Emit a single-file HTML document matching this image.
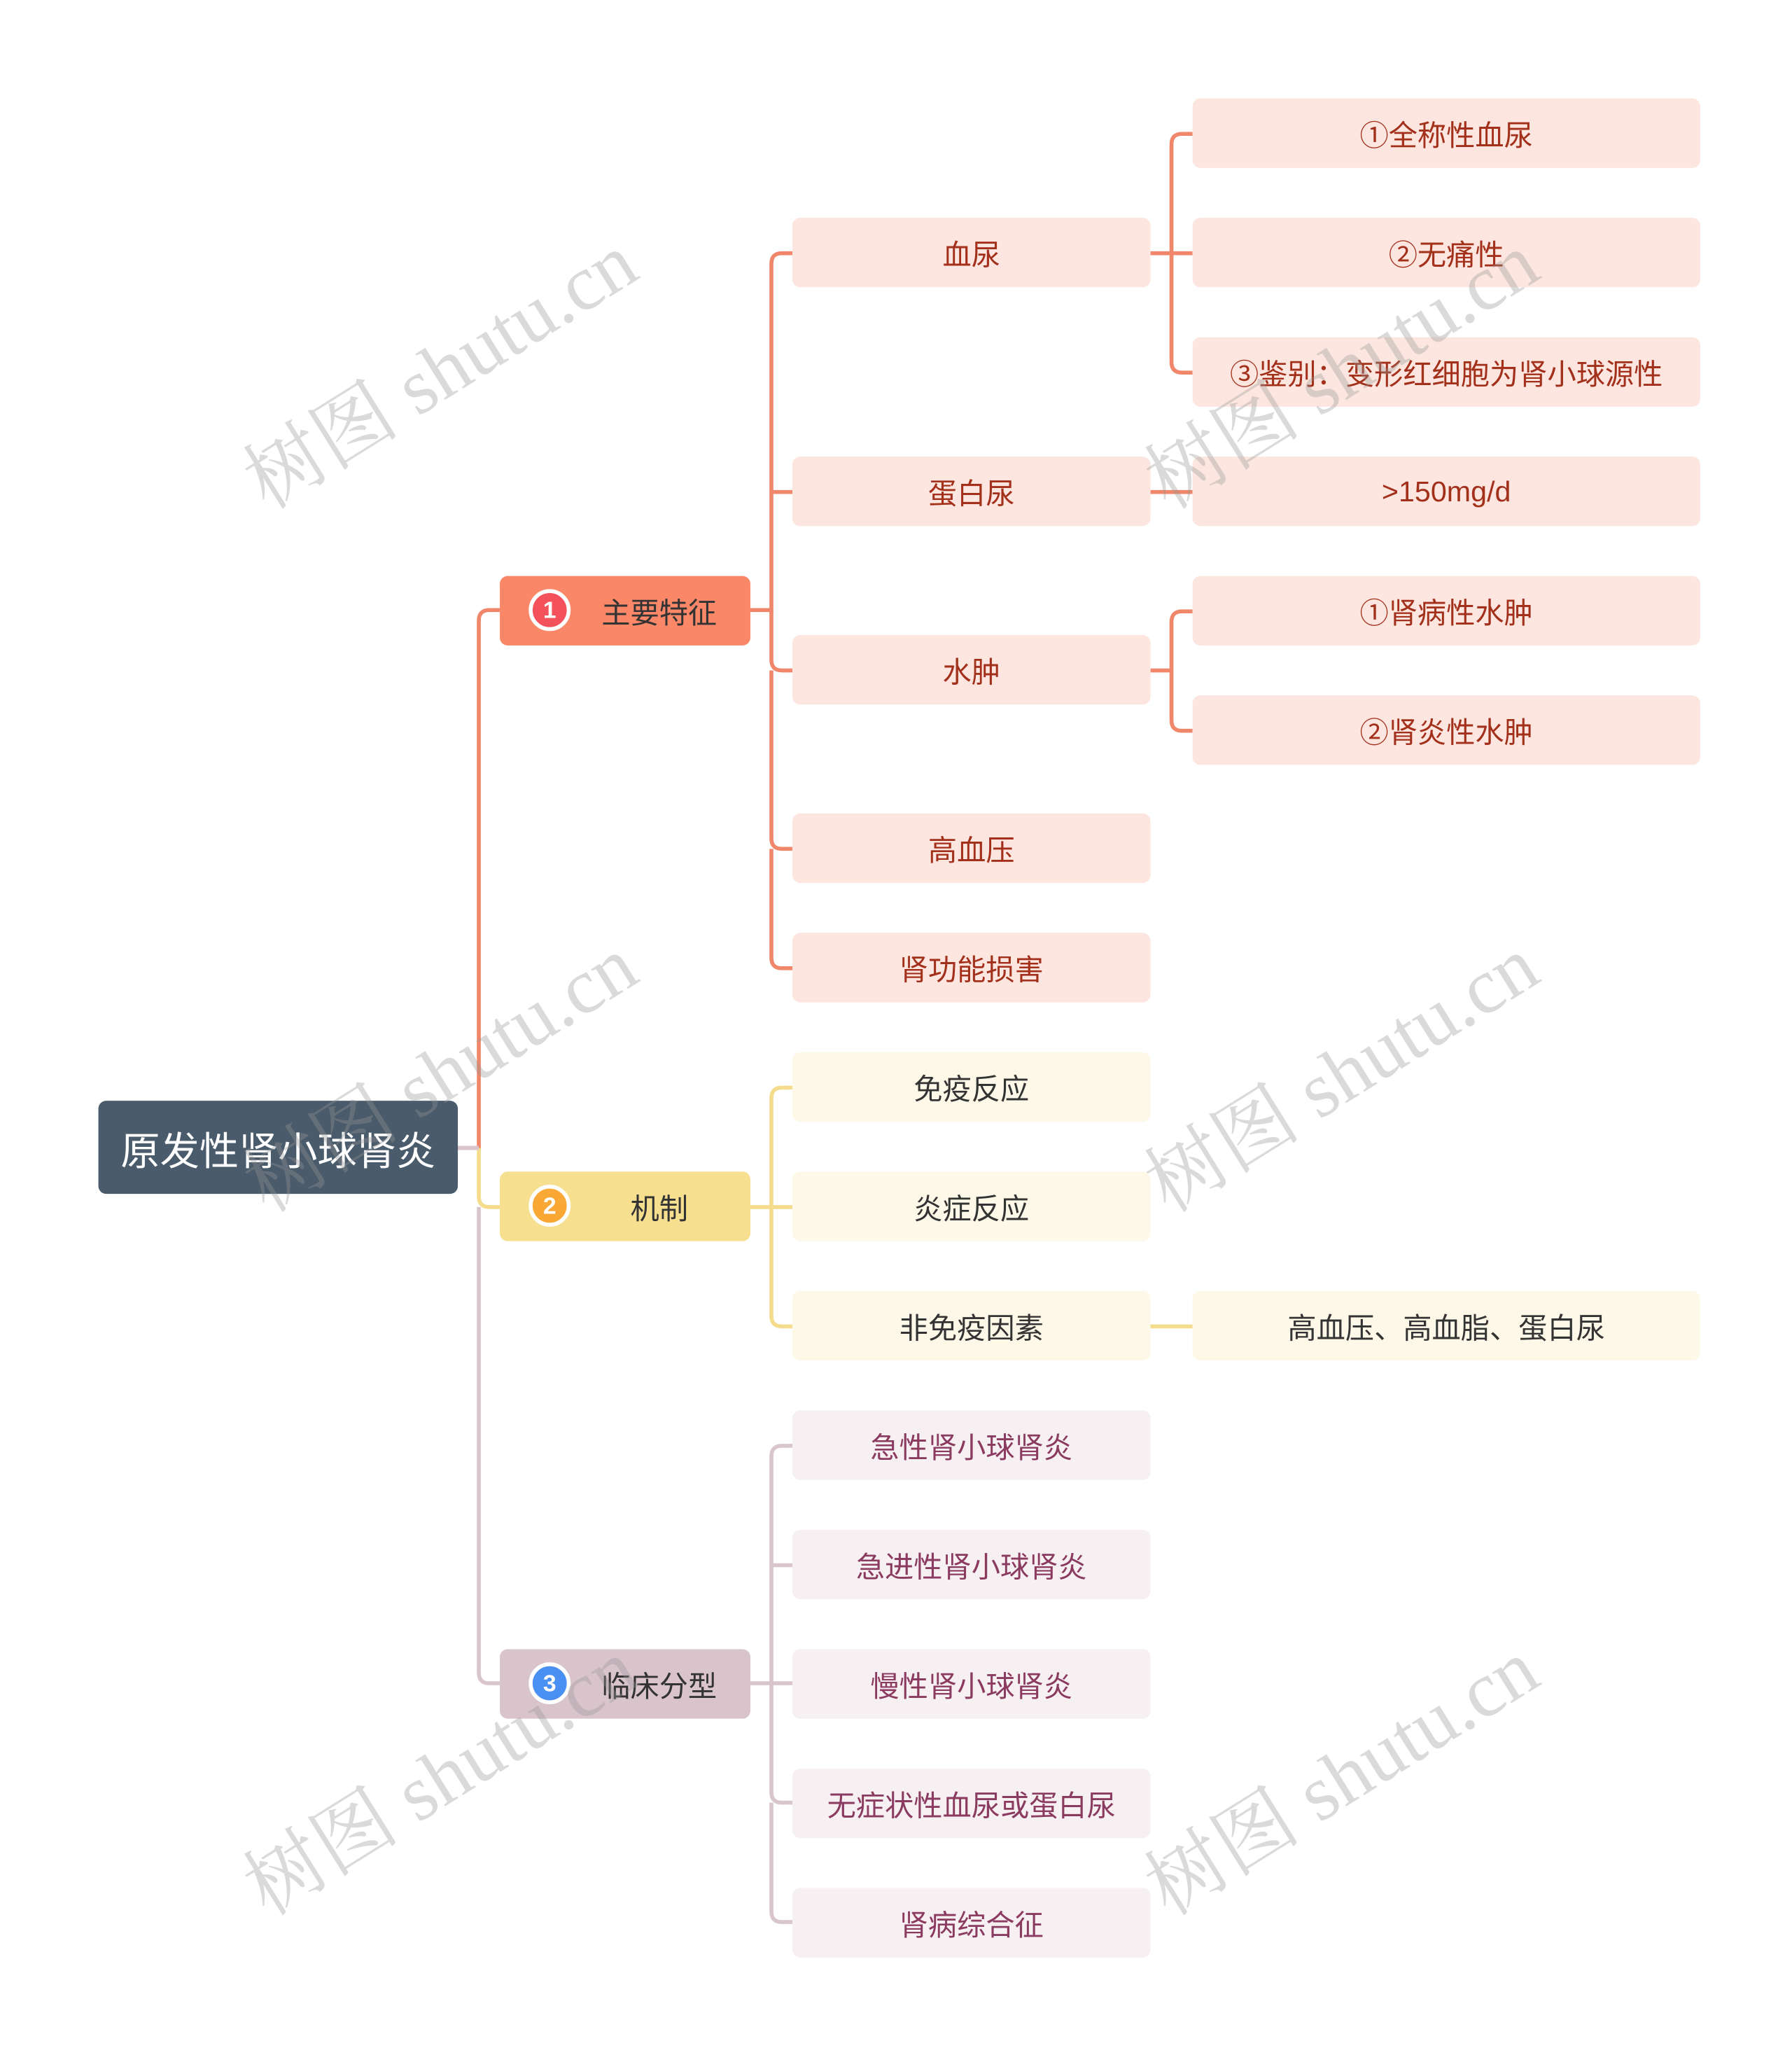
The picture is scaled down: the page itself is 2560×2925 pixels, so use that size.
<!DOCTYPE html>
<html><head><meta charset="utf-8"><style>
body{margin:0;background:#fff;}
#w{width:2560px;height:2925px;overflow:hidden;position:relative;}
#c{position:absolute;left:0;top:0;width:1366px;height:1561px;transform:scale(1.8741,1.8738);transform-origin:0 0;font-family:"Liberation Sans","Noto Sans CJK SC",sans-serif;}
.b{position:absolute;display:flex;align-items:center;justify-content:center;border-radius:6px;font-size:22px;white-space:nowrap;}
.p{background:#fce6df;color:#a3301b;}
.y{background:#fdf8e7;color:#333;}
.g{background:#f6f0f2;color:#8b3a60;}
.bd{position:absolute;width:26px;height:26px;border-radius:50%;border:3px solid #fff;color:#fff;font-size:18px;font-weight:bold;display:flex;align-items:center;justify-content:center;left:22px;top:10px;box-sizing:content-box;}
.wm{position:absolute;font-family:"Liberation Serif","Noto Serif CJK SC",serif;font-size:60px;color:rgba(150,150,150,0.35);transform:rotate(-32deg);white-space:nowrap;}
</style></head><body><div id="w"><div id="c">
<svg width="1366" height="1561" style="position:absolute;left:0;top:0" fill="none" stroke-width="3">
<g stroke="#f0866a">
<path d="M349,875 H365 V473 Q365,465 373,465 H381"/>
<path d="M572,465 H588 V201 Q588,193 596,193 H604"/>
<path d="M588,375 H604"/>
<path d="M588,465 V503 Q588,511 596,511 H604"/>
<path d="M588,511 V639 Q588,647 596,647 H604"/>
<path d="M588,647 V730 Q588,738 596,738 H604"/>
<path d="M877,193 H893 V110 Q893,102 901,102 H909"/>
<path d="M893,193 H909"/>
<path d="M893,193 V276 Q893,284 901,284 H909"/>
<path d="M877,375 H909"/>
<path d="M877,511 H893 V474 Q893,466 901,466 H909"/>
<path d="M893,511 V549 Q893,557 901,557 H909"/>
</g>
<g stroke="#f5dc8c">
<path d="M365,875 V912 Q365,920 373,920 H381"/>
<path d="M572,920 H604"/>
<path d="M588,920 V837 Q588,829 596,829 H604"/>
<path d="M588,920 V1003 Q588,1011 596,1011 H604"/>
<path d="M877,1011 H909"/>
</g>
<g stroke="#d9c6cd">
<path d="M349,875 H365"/>
<path d="M365,920 V1275 Q365,1283 373,1283 H381"/>
<path d="M572,1283 H604"/>
<path d="M588,1283 V1110 Q588,1102 596,1102 H604"/>
<path d="M588,1193 H604"/>
<path d="M588,1283 V1366 Q588,1374 596,1374 H604"/>
<path d="M588,1374 V1457 Q588,1465 596,1465 H604"/>
</g>
</svg>
<div class="b" style="left:75px;top:839px;width:274px;height:71px;background:#4a5b6b;color:#fff;font-size:30px;">原发性肾小球肾炎</div>
<div class="b" style="left:381px;top:439px;width:191px;height:53px;background:#fa8868;color:#333;padding-left:52px;box-sizing:border-box;">主要特征<div class="bd" style="background:#f3525c;">1</div></div>
<div class="b" style="left:381px;top:893px;width:191px;height:53px;background:#f7df90;color:#333;padding-left:52px;box-sizing:border-box;">机制<div class="bd" style="background:#f9a735;">2</div></div>
<div class="b" style="left:381px;top:1257px;width:191px;height:53px;background:#d9c4cc;color:#333;padding-left:52px;box-sizing:border-box;">临床分型<div class="bd" style="background:#4a8ff2;">3</div></div>

<div class="b p" style="left:604px;top:166px;width:273px;height:53px;">血尿</div>
<div class="b p" style="left:604px;top:348px;width:273px;height:53px;">蛋白尿</div>
<div class="b p" style="left:604px;top:484px;width:273px;height:53px;">水肿</div>
<div class="b p" style="left:604px;top:620px;width:273px;height:53px;">高血压</div>
<div class="b p" style="left:604px;top:711px;width:273px;height:53px;">肾功能损害</div>
<div class="b y" style="left:604px;top:802px;width:273px;height:53px;">免疫反应</div>
<div class="b y" style="left:604px;top:893px;width:273px;height:53px;">炎症反应</div>
<div class="b y" style="left:604px;top:984px;width:273px;height:53px;">非免疫因素</div>
<div class="b g" style="left:604px;top:1075px;width:273px;height:53px;">急性肾小球肾炎</div>
<div class="b g" style="left:604px;top:1166px;width:273px;height:53px;">急进性肾小球肾炎</div>
<div class="b g" style="left:604px;top:1257px;width:273px;height:53px;">慢性肾小球肾炎</div>
<div class="b g" style="left:604px;top:1348px;width:273px;height:53px;">无症状性血尿或蛋白尿</div>
<div class="b g" style="left:604px;top:1439px;width:273px;height:53px;">肾病综合征</div>

<div class="b p" style="left:909px;top:75px;width:387px;height:53px;">①全称性血尿</div>
<div class="b p" style="left:909px;top:166px;width:387px;height:53px;">②无痛性</div>
<div class="b p" style="left:909px;top:257px;width:387px;height:53px;">③鉴别：变形红细胞为肾小球源性</div>
<div class="b p" style="left:909px;top:348px;width:387px;height:53px;">&gt;150mg/d</div>
<div class="b p" style="left:909px;top:439px;width:387px;height:53px;">①肾病性水肿</div>
<div class="b p" style="left:909px;top:530px;width:387px;height:53px;">②肾炎性水肿</div>
<div class="b y" style="left:909px;top:984px;width:387px;height:53px;">高血压、高血脂、蛋白尿</div>

<div class="wm" style="left:165px;top:236px;">树图 shutu.cn</div>
<div class="wm" style="left:852px;top:236px;">树图 shutu.cn</div>
<div class="wm" style="left:165px;top:772px;">树图 shutu.cn</div>
<div class="wm" style="left:852px;top:772px;">树图 shutu.cn</div>
<div class="wm" style="left:165px;top:1308px;">树图 shutu.cn</div>
<div class="wm" style="left:852px;top:1308px;">树图 shutu.cn</div>
</div></div></body></html>
